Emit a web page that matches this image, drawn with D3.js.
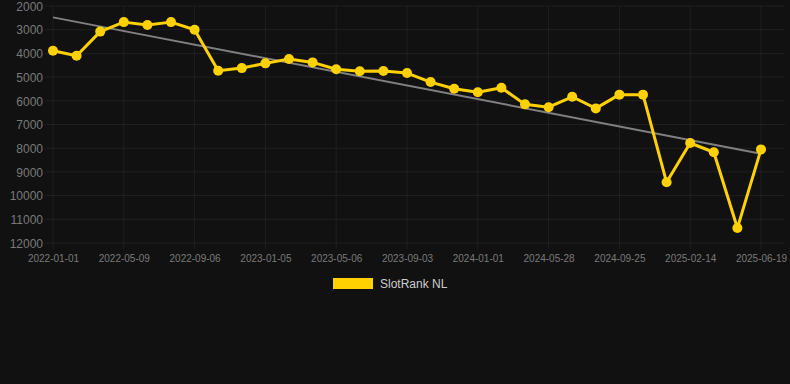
<!DOCTYPE html>
<html>
<head>
<meta charset="utf-8">
<script src="https://cdn.jsdelivr.net/npm/d3@7"></script>
<style>
  html, body { margin: 0; padding: 0; background: #111111; }
  #chart { width: 790px; height: 384px; }
  text { font-family: "Helvetica Neue", Helvetica, Arial, "Liberation Sans", sans-serif; }
</style>
</head>
<body>
<div id="chart"></div>
<script>
// categories (x axis), one per point
const dates = [
    "2022-01-01", "2022-02-12", "2022-03-26", "2022-05-09", "2022-06-18", "2022-07-28",
    "2022-09-06", "2022-10-16", "2022-11-25", "2023-01-05", "2023-02-14", "2023-03-26",
    "2023-05-06", "2023-06-15", "2023-07-25", "2023-09-03", "2023-10-13", "2023-11-22",
    "2024-01-01", "2024-02-19", "2024-04-09", "2024-05-28", "2024-07-07", "2024-08-16",
    "2024-09-25", "2024-11-11", "2024-12-29", "2025-02-14", "2025-03-27", "2025-05-08",
    "2025-06-19"
];

// rank values (lower is better, axis reversed)
const ranks = [
    3890, 4100, 3080, 2680, 2800, 2680, 3000, 4730, 4620, 4420,
    4240, 4380, 4670, 4750, 4740, 4830, 5210, 5490, 5640, 5450,
    6150, 6270, 5830, 6320, 5740, 5740, 9440, 7780, 8170, 11370,
    8050
];

// trend line start / end values
const trendValues = [2480, 8230];

const yTicks = [2000, 3000, 4000, 5000, 6000, 7000, 8000, 9000, 10000, 11000, 12000];
const seriesName = "SlotRank NL";

const width = 790;
const height = 384;
const yellow = "#ffd100";

const svg = d3.select("#chart").append("svg")
    .attr("width", width)
    .attr("height", height);

svg.append("rect")
    .attr("width", width)
    .attr("height", height)
    .attr("fill", "#111111");

const xScale = d3.scalePoint()
    .domain(dates)
    .range([53, 761])
    .padding(0);

const yScale = d3.scaleLinear()
    .domain([2000, 12000])
    .range([6, 243]);

const labelled = dates.filter((d, i) => i % 3 === 0);

// ========= grid
const grid = svg.append("g");

grid.selectAll(".hgrid")
    .data(yTicks)
    .enter()
    .append("line")
    .attr("x1", 45)
    .attr("x2", 785)
    .attr("y1", d => yScale(d))
    .attr("y2", d => yScale(d))
    .attr("stroke", "rgba(255,255,255,0.06)")
    .attr("stroke-width", 1);

grid.selectAll(".vgrid")
    .data(labelled)
    .enter()
    .append("line")
    .attr("x1", d => xScale(d))
    .attr("x2", d => xScale(d))
    .attr("y1", yScale(2000))
    .attr("y2", yScale(12000) + 6)
    .attr("stroke", "rgba(255,255,255,0.06)")
    .attr("stroke-width", 1);

// ========= axes
const yAxis = d3.axisLeft(yScale)
    .tickValues(yTicks)
    .tickSize(0)
    .tickPadding(0)
    .tickFormat(d => d);

svg.append("g")
    .attr("class", "y-axis")
    .attr("transform", "translate(43, 0)")
    .call(yAxis)
    .call(g => g.select(".domain").remove())
    .selectAll("text")
    .style("fill", "#7a7a7a")
    .style("font-size", "12px")
    .attr("dy", "0.35em");

const xAxis = d3.axisBottom(xScale)
    .tickValues(labelled)
    .tickSize(0)
    .tickPadding(0);

svg.append("g")
    .attr("class", "x-axis")
    .attr("transform", "translate(0, 255)")
    .call(xAxis)
    .call(g => g.select(".domain").remove())
    .selectAll("text")
    .style("fill", "#7a7a7a")
    .style("font-size", "10px")
    .attr("dy", "0.71em");

// ========= trend line
svg.append("line")
    .attr("x1", xScale(dates[0]))
    .attr("x2", xScale(dates[dates.length - 1]))
    .attr("y1", yScale(trendValues[0]))
    .attr("y2", yScale(trendValues[1]))
    .attr("stroke", "#808080")
    .attr("stroke-width", 2);

// ========= series
const line = d3.line()
    .x((d, i) => xScale(dates[i]))
    .y(d => yScale(d));

svg.append("path")
    .datum(ranks)
    .attr("d", line)
    .attr("fill", "none")
    .attr("stroke", yellow)
    .attr("stroke-width", 3)
    .attr("stroke-linejoin", "round");

svg.selectAll(".dot")
    .data(ranks)
    .enter()
    .append("circle")
    .attr("class", "dot")
    .attr("cx", (d, i) => xScale(dates[i]))
    .attr("cy", d => yScale(d))
    .attr("r", 5)
    .attr("fill", yellow);

// ========= legend
const legend = svg.append("g")
    .attr("transform", "translate(333, 278)");

legend.append("rect")
    .attr("width", 40)
    .attr("height", 11)
    .attr("fill", yellow);

legend.append("text")
    .attr("x", 47)
    .attr("y", 6)
    .attr("dy", "0.35em")
    .style("fill", "#cccccc")
    .style("font-size", "12px")
    .text(seriesName);
</script>
</body>
</html>
